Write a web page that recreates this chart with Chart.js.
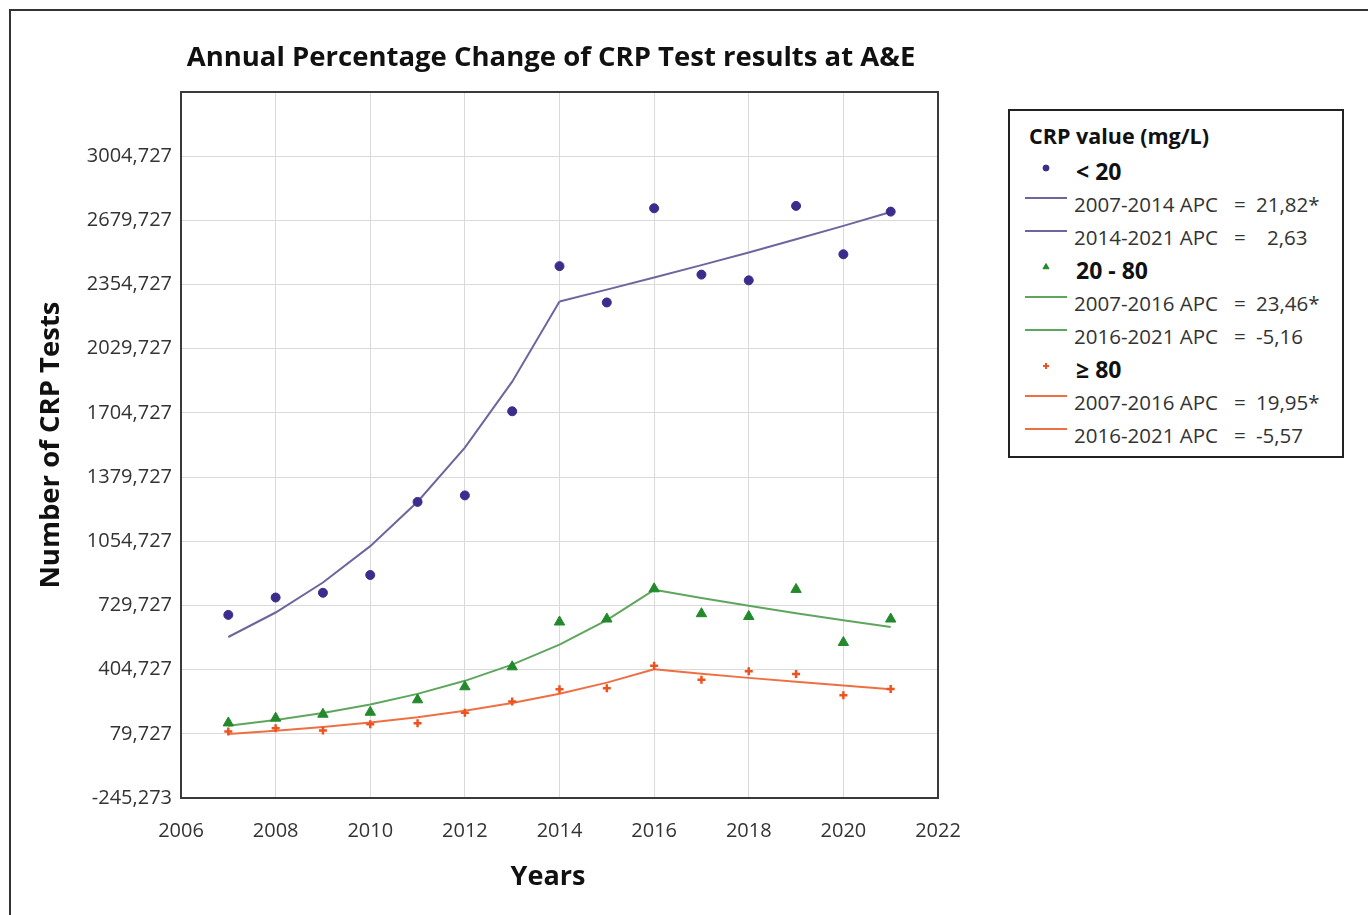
<!DOCTYPE html>
<html>
<head>
<meta charset="utf-8">
<title>Annual Percentage Change of CRP Test results at A&amp;E</title>
<script src="https://cdn.jsdelivr.net/npm/chart.js@4.4.1/dist/chart.umd.min.js"></script>
<style>
  html, body { margin: 0; padding: 0; background: #fff; }
  #wrap { position: relative; width: 1368px; height: 915px; overflow: hidden; font-family: "Open Sans", sans-serif; color: #333; }
  #frame { position: absolute; left: 9px; top: 9px; width: 1500px; height: 1000px; border-left: 2px solid #333; border-top: 2px solid #333; }
  #chart { position: absolute; left: 0; top: 0; }
  #title { position: absolute; left: 151px; width: 800px; top: 38px; text-align: center; font-weight: 700; font-size: 27.5px; line-height: 36px; color: #111; white-space: nowrap; }
  #xtitle { position: absolute; left: 448px; width: 200px; top: 857px; text-align: center; font-weight: 700; font-size: 27px; line-height: 36px; color: #111; }
  #legend { position: absolute; left: 1008px; top: 109px; width: 336px; height: 349px; box-sizing: border-box; border: 2px solid #222; background: #fff; }
  #legend .t { position: absolute; white-space: pre; line-height: 30px; height: 30px; font-size: 20.5px; color: #333; }
  #legend .h { font-weight: 700; font-size: 21.5px; color: #111; }
  #legend .g { font-weight: 700; font-size: 23px; color: #111; }
  #legend .ln { position: absolute; left: 15px; width: 42px; height: 0; border-top: 2px solid; }
  #legend canvas { position: absolute; }
</style>
</head>
<body>
<div id="wrap">
  <div id="frame"></div>
  <canvas id="chart" width="1368" height="915"></canvas>
  <div id="title">Annual Percentage Change of CRP Test results at A&amp;E</div>
  <div id="xtitle">Years</div>
  <div id="legend"></div>
</div>
<script>
// Survey years
const years = [2007, 2008, 2009, 2010, 2011, 2012, 2013, 2014, 2015, 2016, 2017, 2018, 2019, 2020, 2021];

// CRP < 20 mg/L: observed counts and joinpoint fit (break at 2014)
const lt20Observed = [682, 770, 794, 884, 1254, 1287, 1713, 2448, 2264, 2741, 2405, 2376, 2753, 2508, 2724];
const lt20Fit1 = [570, 694, 846, 1030, 1255, 1529, 1863, 2269];          // 2007-2014
const lt20Fit2 = [2269, 2329, 2390, 2453, 2517, 2584, 2652, 2722];       // 2014-2021

// CRP 20 - 80 mg/L: observed counts and fit (break at 2016)
const mid20Observed = [135, 159, 179, 189, 252, 318, 419, 646, 661, 814, 688, 674, 811, 542, 661];
const mid20Fit1 = [121, 150, 185, 228, 282, 348, 430, 531, 655, 809];   // 2007-2016
const mid20Fit2 = [809, 767, 728, 690, 655, 621];                       // 2016-2021

// CRP >= 80 mg/L: observed counts and fit (break at 2016)
const ge80Observed = [91, 108, 96, 128, 133, 186, 243, 306, 311, 424, 353, 397, 383, 275, 307];
const ge80Fit1 = [79, 95, 114, 137, 164, 197, 236, 283, 339, 407];      // 2007-2016
const ge80Fit2 = [407, 384, 363, 343, 324, 306];                        // 2016-2021

// Legend rows
const legendTitle = 'CRP value (mg/L)';
const groupNames = ['< 20', '20 - 80', '\u2265 80'];
const segmentLabels = [
  ['2007-2014 APC', '21,82*'], ['2014-2021 APC', ' 2,63'],
  ['2007-2016 APC', '23,46*'], ['2016-2021 APC', '-5,16'],
  ['2007-2016 APC', '19,95*'], ['2016-2021 APC', '-5,57']
];

// Y axis range
const yMin = -245.273, yMax = 3329.727, yStep = 325;

const colors = {
  lt20Pt: '#3a2d8c', lt20Ln: '#6f659e',
  midPt: '#23892c', midLn: '#5ea65e',
  gePt: '#f0521f', geLn: '#ee7042'
};

const pts = (xs, ys) => ys.map((v, i) => ({ x: xs[i], y: v }));
const firstYears = n => years.slice(0, n);
const lastYears = n => years.slice(years.length - n);

function scatterSet(label, data, color, style, radius, bw) {
  return { type: 'scatter', label, data: pts(years, data), pointStyle: style,
    pointRadius: radius, pointBackgroundColor: color, pointBorderColor: color,
    pointBorderWidth: bw, showLine: false, order: 1 };
}
function fitSet(label, xs, data, color) {
  return { type: 'line', label, data: pts(xs, data), borderColor: color, borderWidth: 2,
    pointRadius: 0, fill: false, tension: 0, order: 2 };
}

const datasets = [
  scatterSet(groupNames[0], lt20Observed, colors.lt20Pt, 'circle', 4.5, 1),
  fitSet(segmentLabels[0].join(' = '), firstYears(lt20Fit1.length), lt20Fit1, colors.lt20Ln),
  fitSet(segmentLabels[1].join(' = '), lastYears(lt20Fit2.length), lt20Fit2, colors.lt20Ln),
  scatterSet(groupNames[1], mid20Observed, colors.midPt, 'triangle', 6, 1),
  fitSet(segmentLabels[2].join(' = '), firstYears(mid20Fit1.length), mid20Fit1, colors.midLn),
  fitSet(segmentLabels[3].join(' = '), lastYears(mid20Fit2.length), mid20Fit2, colors.midLn),
  scatterSet(groupNames[2], ge80Observed, colors.gePt, 'cross', 4, 2.5),
  fitSet(segmentLabels[4].join(' = '), firstYears(ge80Fit1.length), ge80Fit1, colors.geLn),
  fitSet(segmentLabels[5].join(' = '), lastYears(ge80Fit2.length), ge80Fit2, colors.geLn)
];

// Box around the plotting area
const plotBox = {
  id: 'plotBox',
  afterDatasetsDraw(chart) {
    const a = chart.chartArea, c = chart.ctx;
    c.save();
    c.strokeStyle = '#3a3a3a';
    c.lineWidth = 2;
    c.strokeRect(a.left, a.top, a.right - a.left, a.bottom - a.top);
    c.restore();
  }
};

const fmt = v => v.toFixed(3).replace('.', ',');

new Chart(document.getElementById('chart'), {
  type: 'scatter',
  data: { datasets },
  options: {
    responsive: false,
    animation: false,
    layout: { padding: { left: 30, top: 92, right: 430, bottom: 21 } },
    plugins: { legend: { display: false }, title: { display: false }, tooltip: { enabled: false } },
    scales: {
      x: {
        type: 'linear', min: 2006, max: 2022,
        afterFit: s => { s.height = 96; },
        grid: { color: '#dadada', lineWidth: 1, drawTicks: false },
        border: { display: false },
        ticks: { stepSize: 2, padding: 21, color: '#333', font: { family: 'Open Sans', size: 20 },
          callback: v => String(v), maxRotation: 0 },
        title: { display: false }
      },
      y: {
        type: 'linear', min: yMin, max: yMax,
        afterFit: s => { s.width = 151; },
        grid: { color: '#dadada', lineWidth: 1, drawTicks: false },
        border: { display: false },
        ticks: { stepSize: yStep, padding: 9, color: '#333', font: { family: 'Open Sans', size: 20 },
          callback: v => (Math.abs(v - yMax) < 1e-6 ? '' : fmt(v)) },
        title: { display: true, text: 'Number of CRP Tests', color: '#111',
          padding: { top: 5, bottom: 4 }, font: { family: 'Open Sans', size: 27.5, weight: 'bold' } }
      }
    }
  },
  plugins: [plotBox]
});

// Legend panel
(function buildLegend() {
  const box = document.getElementById('legend');
  const rowTop = 60, rowGap = 33;  // centre of first group row, row spacing (px within panel)
  const add = (cls, text, left, centre) => {
    const d = document.createElement('div');
    d.className = 't ' + cls;
    d.textContent = text;
    d.style.left = left + 'px';
    d.style.top = (centre - 15) + 'px';
    box.appendChild(d);
    return d;
  };
  add('h', legendTitle, 19, 25);
  const markerColors = [colors.lt20Pt, colors.midPt, colors.gePt];
  const lineColors = [colors.lt20Ln, colors.midLn, colors.geLn];
  const styles = ['circle', 'triangle', 'cross'];
  groupNames.forEach((g, gi) => {
    const c0 = rowTop + gi * 3 * rowGap;
    add('g', g, 66, c0);
    // marker glyph
    const cv = document.createElement('canvas');
    cv.width = 16; cv.height = 16;
    cv.style.left = (36 - 8) + 'px';
    cv.style.top = (c0 - 3 - 8) + 'px';
    box.appendChild(cv);
    const ctx = cv.getContext('2d');
    ctx.fillStyle = markerColors[gi];
    ctx.strokeStyle = markerColors[gi];
    ctx.lineWidth = gi === 2 ? 2 : 1;
    Chart.helpers.drawPoint(ctx, { pointStyle: styles[gi], radius: gi === 1 ? 3.5 : 3, borderWidth: ctx.lineWidth }, 8, 8);
    for (let k = 0; k < 2; k++) {
      const c = c0 + (k + 1) * rowGap;
      const [lab, val] = segmentLabels[gi * 2 + k];
      add('', lab, 64, c);
      add('', '=', 224, c);
      const numLeft = val.startsWith(' ') ? 246 + 11 : 246;
      add('', val.trim(), numLeft, c);
      const ln = document.createElement('div');
      ln.className = 'ln';
      ln.style.borderTopColor = lineColors[gi];
      ln.style.top = (c - 7) + 'px';
      box.appendChild(ln);
    }
  });
})();
</script>
</body>
</html>
